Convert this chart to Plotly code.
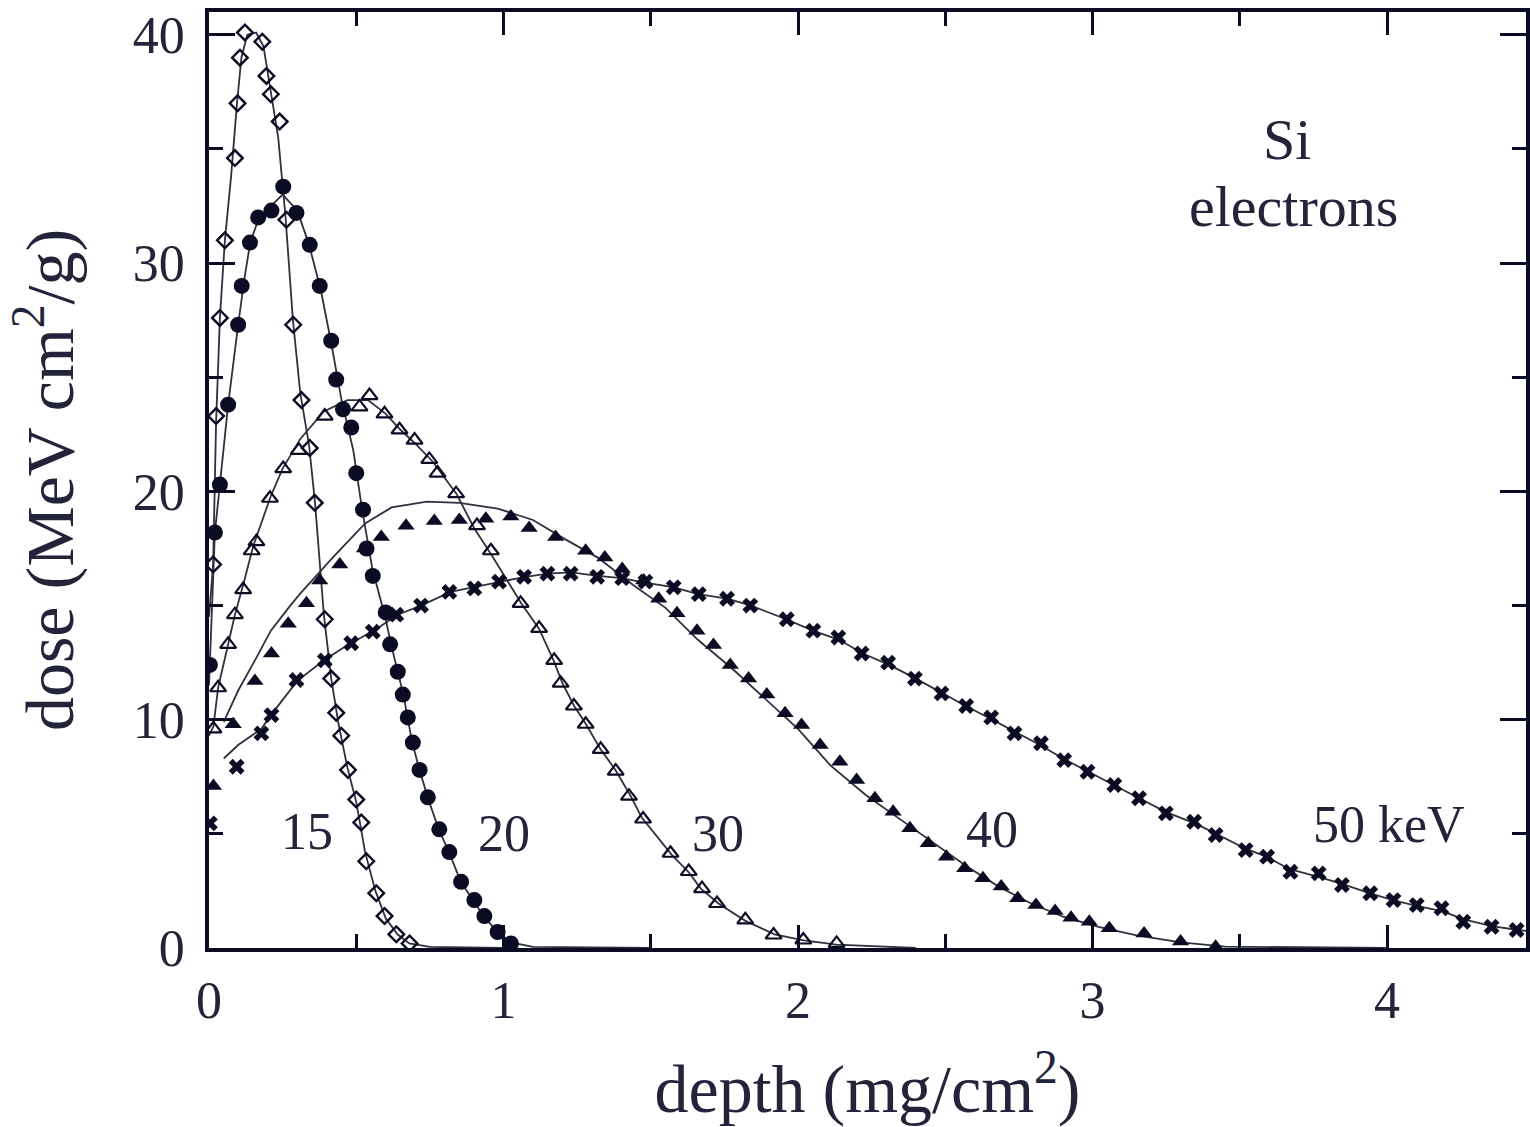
import plotly.graph_objects as go

# ---------------- data ----------------
# 15 keV  (open diamonds)
x15 = [0.014, 0.024, 0.037, 0.054, 0.088, 0.097, 0.105, 0.122, 0.181, 0.195, 0.210, 0.240,
       0.263, 0.286, 0.314, 0.342, 0.359, 0.393, 0.415, 0.432, 0.449, 0.472, 0.500, 0.517,
       0.534, 0.568, 0.596, 0.636, 0.681]
y15 = [16.8, 23.3, 27.6, 31.0, 34.6, 37.0, 39.0, 40.1, 39.7, 38.2, 37.4, 36.2,
       31.9, 27.3, 24.0, 21.9, 19.5, 14.4, 11.8, 10.3, 9.3, 7.8, 6.5, 5.5,
       3.8, 2.4, 1.4, 0.6, 0.2]
lx15 = [0.0, 0.014, 0.024, 0.037, 0.054, 0.075, 0.095, 0.11, 0.13, 0.16, 0.185, 0.21, 0.235,
        0.26, 0.285, 0.31, 0.34, 0.36, 0.39, 0.415, 0.44, 0.47, 0.5, 0.53, 0.565, 0.6, 0.64,
        0.68, 0.75, 1.0]
ly15 = [14.5, 16.8, 23.0, 27.6, 31.0, 33.8, 37.0, 39.0, 40.0, 40.1, 39.5, 37.4, 35.5,
        32.0, 27.5, 24.3, 22.0, 19.5, 14.6, 11.8, 9.8, 7.9, 6.4, 4.2, 2.5, 1.3, 0.6,
        0.2, 0.05, 0.0]

# 20 keV  (filled circles)
x20 = [0.003, 0.020, 0.037, 0.065, 0.099, 0.111, 0.139, 0.167, 0.212, 0.252, 0.297, 0.342,
       0.376, 0.415, 0.432, 0.455, 0.483, 0.500, 0.523, 0.535, 0.556, 0.600, 0.615, 0.641,
       0.658, 0.675, 0.692, 0.715, 0.743, 0.782, 0.816, 0.856, 0.901, 0.935, 0.980, 1.025]
y20 = [12.4, 18.2, 20.3, 23.8, 27.3, 29.0, 30.9, 32.0, 32.3, 33.35, 32.2, 30.8,
       29.0, 26.6, 24.9, 23.6, 22.8, 20.8, 19.2, 17.5, 16.3, 14.7, 13.3, 12.1,
       11.1, 10.1, 9.0, 7.8, 6.6, 5.2, 4.2, 2.9, 2.1, 1.4, 0.7, 0.2]
lx20 = [0.0, 0.003, 0.02, 0.037, 0.065, 0.099, 0.12, 0.14, 0.17, 0.21, 0.25, 0.3, 0.34, 0.38,
        0.415, 0.45, 0.49, 0.52, 0.555, 0.6, 0.62, 0.66, 0.69, 0.715, 0.745, 0.78, 0.815,
        0.855, 0.9, 0.935, 0.98, 1.025, 1.1, 1.5]
ly20 = [11.5, 12.4, 18.2, 20.3, 23.8, 27.3, 29.3, 30.9, 32.0, 32.5, 33.0, 32.3, 30.8, 28.8,
        26.5, 24.0, 21.8, 19.2, 16.6, 14.4, 13.2, 11.1, 9.0, 7.8, 6.5, 5.2, 4.2,
        2.9, 2.0, 1.35, 0.7, 0.25, 0.05, 0.0]

# 30 keV  (open triangles)
x30 = [0.015, 0.031, 0.065, 0.088, 0.116, 0.145, 0.161, 0.207, 0.252, 0.305, 0.393, 0.511,
       0.545, 0.596, 0.647, 0.698, 0.748, 0.776, 0.839, 0.910, 0.957, 1.058, 1.121, 1.172,
       1.194, 1.239, 1.279, 1.330, 1.381, 1.426, 1.474, 1.567, 1.629, 1.674, 1.725, 1.821,
       1.917, 2.018, 2.131]
y30 = [9.6, 11.4, 13.3, 14.6, 15.7, 17.4, 17.8, 19.7, 21.0, 21.8, 23.3, 23.7,
       24.2, 23.4, 22.7, 22.25, 21.4, 20.8, 19.9, 18.5, 17.4, 15.1, 14.0, 12.6,
       11.6, 10.6, 9.8, 8.7, 7.75, 6.65, 5.65, 4.15, 3.35, 2.6, 1.95, 1.23,
       0.57, 0.35, 0.2]
lx30 = [0.0, 0.015, 0.031, 0.065, 0.088, 0.116, 0.15, 0.21, 0.25, 0.31, 0.39, 0.47, 0.54,
        0.6, 0.65, 0.7, 0.76, 0.84, 0.9, 0.96, 1.06, 1.12, 1.17, 1.2, 1.24, 1.28, 1.33, 1.38,
        1.43, 1.47, 1.52, 1.57, 1.63, 1.67, 1.73, 1.82, 1.92, 2.02, 2.13, 2.4]
ly30 = [9.3, 9.7, 11.4, 13.3, 14.6, 15.9, 17.6, 19.8, 21.0, 22.3, 23.5, 24.0, 24.0,
        23.4, 22.7, 22.1, 21.3, 19.9, 18.4, 17.2, 15.1, 14.0, 12.6, 11.6, 10.6, 9.8, 8.7, 7.8,
        6.7, 5.7, 4.9, 4.1, 3.3, 2.6, 1.95, 1.2, 0.6, 0.33, 0.15, 0.0]

# 40 keV  (filled triangles)
x40 = [0.015, 0.082, 0.156, 0.212, 0.269, 0.331, 0.376, 0.444, 0.528, 0.585, 0.669, 0.765,
       0.850, 0.940, 1.025, 1.087, 1.177, 1.279, 1.344, 1.403, 1.476, 1.527, 1.589, 1.657,
       1.713, 1.770, 1.832, 1.894, 1.956, 2.012, 2.075, 2.142, 2.199, 2.261, 2.323, 2.380,
       2.442, 2.504, 2.566, 2.628, 2.690, 2.746, 2.808, 2.873, 2.927, 2.989, 3.057, 3.175,
       3.299, 3.418]
y40 = [7.1, 9.8, 11.7, 12.9, 14.2, 15.1, 16.1, 16.8, 17.5, 18.0, 18.5, 18.7,
       18.75, 18.8, 18.9, 18.4, 18.0, 17.4, 17.1, 16.6, 16.1, 15.3, 14.66, 13.9,
       13.27, 12.4, 11.8, 11.1, 10.28, 9.77, 8.89, 8.16, 7.36, 6.56, 5.97, 5.24,
       4.59, 4.0, 3.49, 3.05, 2.69, 2.18, 1.88, 1.62, 1.33, 1.15, 0.86, 0.64,
       0.28, 0.06]
lx40 = [0.05, 0.1, 0.156, 0.21, 0.27, 0.308, 0.42, 0.53, 0.62, 0.74, 0.85, 0.98, 1.1, 1.21,
        1.32, 1.44, 1.55, 1.66, 1.78, 1.89, 2.0, 2.11, 2.23, 2.34, 2.45, 2.57, 2.68, 2.79,
        2.9, 3.02, 3.15, 3.3, 3.45, 4.0]
ly40 = [9.9, 11.3, 12.6, 13.9, 14.9, 15.5, 17.1, 18.6, 19.3, 19.55, 19.5, 19.25, 18.75, 17.9,
        17.1, 15.9, 14.9, 13.5, 12.2, 10.9, 9.6, 8.0, 6.7, 5.7, 4.7, 3.6, 2.7, 1.96,
        1.37, 0.93, 0.55, 0.25, 0.06, 0.0]

# 50 keV  (crosses)
x50 = [0.003, 0.094, 0.178, 0.212, 0.297, 0.393, 0.483, 0.556, 0.636, 0.720, 0.816, 0.901,
       0.985, 1.070, 1.149, 1.228, 1.318, 1.403, 1.482, 1.578, 1.663, 1.759, 1.838, 1.962,
       2.052, 2.137, 2.216, 2.306, 2.397, 2.487, 2.571, 2.656, 2.735, 2.825, 2.904, 2.983,
       3.074, 3.158, 3.249, 3.345, 3.418, 3.520, 3.593, 3.672, 3.768, 3.847, 3.943, 4.022,
       4.101, 4.185, 4.259, 4.355, 4.440]
y50 = [5.46, 7.94, 9.4, 10.2, 11.74, 12.6, 13.35, 13.86, 14.6, 15.0, 15.6, 15.75,
       16.05, 16.26, 16.4, 16.4, 16.26, 16.2, 16.05, 15.8, 15.5, 15.3, 15.0, 14.4,
       13.9, 13.6, 12.9, 12.5, 11.8, 11.15, 10.6, 10.1, 9.4, 8.97, 8.23, 7.72,
       7.14, 6.56, 5.9, 5.53, 4.95, 4.29, 4.0, 3.34, 3.27, 2.76, 2.4, 2.1,
       1.88, 1.74, 1.15, 0.93, 0.79]
lx50 = [0.05, 0.1, 0.178, 0.21, 0.3, 0.39, 0.48, 0.56, 0.64, 0.72, 0.82, 0.9, 0.99, 1.07,
        1.15, 1.23, 1.32, 1.4, 1.48, 1.58, 1.66, 1.76, 1.84, 1.96, 2.05, 2.14, 2.22, 2.31,
        2.4, 2.49, 2.57, 2.66, 2.74, 2.82, 2.9, 2.98, 3.07, 3.16, 3.25, 3.35, 3.42, 3.52,
        3.59, 3.67, 3.77, 3.85, 3.94, 4.02, 4.1, 4.19, 4.26, 4.36, 4.44, 4.5]
ly50 = [8.3, 8.9, 9.6, 10.2, 11.7, 12.6, 13.35, 13.9, 14.6, 15.0, 15.6, 15.8, 16.05, 16.25,
        16.4, 16.45, 16.3, 16.2, 16.0, 15.8, 15.5, 15.3, 15.0, 14.4, 13.9, 13.5, 12.9, 12.4,
        11.8, 11.15, 10.6, 10.0, 9.45, 8.9, 8.3, 7.75, 7.15, 6.55, 5.95, 5.45, 5.0, 4.35,
        4.0, 3.45, 3.1, 2.8, 2.4, 2.1, 1.85, 1.6, 1.25, 0.95, 0.8, 0.7]

x_ticks = [0, 1, 2, 3, 4]
x_tick_labels = ["0", "1", "2", "3", "4"]
y_ticks = [0, 10, 20, 30, 40]
y_tick_labels = ["0", "10", "20", "30", "40"]

energy_labels = ["15", "20", "30", "40", "50 keV"]
label_x = [0.332, 1.002, 1.73, 2.657, 4.008]
label_y = [5.1, 5.0, 5.0, 5.2, 5.4]

# ---------------- styling ----------------
INK = "#0b0b24"
TXT = "#23233a"
LINE = "#30303e"
FONT = "Liberation Serif, Times New Roman, serif"

L, T, B = 209, 12, 179
W, H = 1530, 1127
pw = W - L
ph = H - T - B

fig = go.Figure()

lines = [(lx15, ly15), (lx20, ly20), (lx30, ly30), (lx40, ly40), (lx50, ly50)]
for lx, ly in lines:
    fig.add_trace(go.Scatter(x=lx, y=ly, mode="lines", line=dict(color=LINE, width=1.8),
                             showlegend=False, hoverinfo="skip"))

markers = [
    (x15, y15, dict(symbol="diamond-open", size=12, color=INK, line=dict(width=2.4, color=INK))),
    (x20, y20, dict(symbol="circle", size=16, color=INK, line=dict(width=0))),
    (x30, y30, dict(symbol="triangle-up-open", size=14, color=INK, line=dict(width=2.2, color=INK))),
    (x40, y40, dict(symbol="triangle-up", size=15, color=INK, line=dict(width=0))),
    (x50, y50, dict(symbol="x", size=14, color=INK, line=dict(width=0))),
]
for x, y, mk in markers:
    fig.add_trace(go.Scatter(x=x, y=y, mode="markers", marker=mk, showlegend=False))

for t, lxv, lyv in zip(energy_labels, label_x, label_y):
    fig.add_annotation(x=lxv, y=lyv, xref="x", yref="y", text=t, showarrow=False,
                       xanchor="center", yanchor="middle",
                       font=dict(family=FONT, size=52, color=TXT))

# corner label (pixel centre positions converted to domain fractions)
corner_text = ["Si", "electrons"]
corner_px = [1290, 1297]
corner_py = [140, 206]
for t, px, py in zip(corner_text, corner_px, corner_py):
    fig.add_annotation(x=(px - L) / pw, y=1 - (py - T) / ph, xref="x domain", yref="y domain",
                       text=t, showarrow=False, xanchor="center", yanchor="middle",
                       font=dict(family=FONT, size=58, color=TXT))

xmax = pw / 295.4
ymax = 41.0

fig.update_layout(
    width=W, height=H,
    margin=dict(l=L, r=0, t=T, b=B),
    plot_bgcolor="white", paper_bgcolor="white",
    font=dict(family=FONT, color=TXT),
    xaxis=dict(
        range=[0, xmax], tickvals=x_ticks, ticktext=x_tick_labels,
        showgrid=False, zeroline=False,
        showline=True, linecolor=INK, linewidth=3.5, mirror="allticks",
        ticks="inside", ticklen=23, tickwidth=3, tickcolor=INK,
        minor=dict(dtick=0.5, ticks="inside", ticklen=14, tickwidth=3, tickcolor=INK, showgrid=False),
        tickfont=dict(family=FONT, size=52, color=TXT),
        ticklabelstandoff=4,
        title=dict(text="depth (mg/cm<sup>2</sup>)", font=dict(family=FONT, size=68, color=TXT), standoff=50),
    ),
    yaxis=dict(
        range=[0, ymax], tickvals=y_ticks, ticktext=y_tick_labels,
        showgrid=False, zeroline=False,
        showline=True, linecolor=INK, linewidth=3.5, mirror="allticks",
        ticks="inside", ticklen=26, tickwidth=3, tickcolor=INK,
        minor=dict(dtick=5, ticks="inside", ticklen=14, tickwidth=3, tickcolor=INK, showgrid=False),
        tickfont=dict(family=FONT, size=52, color=TXT),
        ticklabelstandoff=10,
        title=dict(text="dose (MeV cm<sup>2</sup>/g)", font=dict(family=FONT, size=68, color=TXT), standoff=38),
    ),
)

fig.write_html("out.html")
